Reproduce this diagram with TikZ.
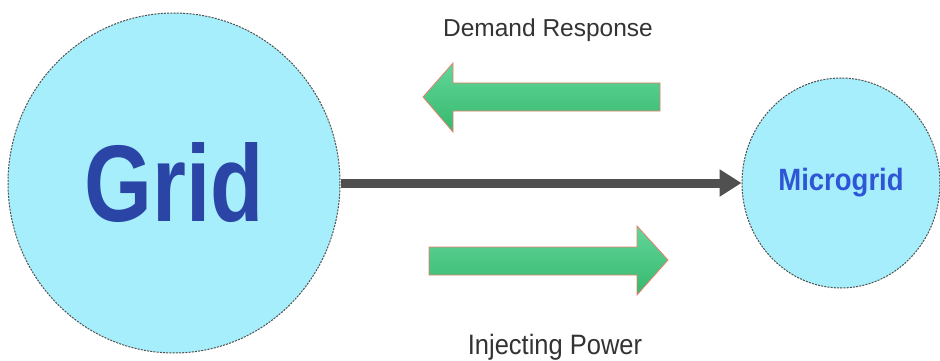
\documentclass[tikz,border=0pt]{standalone}
\usepackage{fontspec}
\setmainfont{Liberation Sans}
\usetikzlibrary{shapes.geometric, arrows.meta, positioning}
\definecolor{cyanfill}{HTML}{A6EEFB}
\definecolor{gridblue}{HTML}{2A45A5}
\definecolor{microblue}{HTML}{2E56D6}
\definecolor{darkline}{HTML}{505050}
\definecolor{greentop}{HTML}{62D69A}
\definecolor{greenbot}{HTML}{36B86D}
\definecolor{salmon}{HTML}{E8806E}
\tikzstyle{bubble} = [ellipse, inner sep=0pt, fill=cyanfill, draw=darkline, line width=1pt, dash pattern=on 2pt off 1.2pt]
\tikzstyle{label} = [text=black!80, inner sep=0pt, anchor=base]
\tikzstyle{connector} = [draw=darkline, line width=9pt, -{Triangle[length=22pt, width=26pt]}]
\tikzstyle{blockarrow} = [top color=greentop, bottom color=greenbot, draw=salmon, line width=0.8pt, line join=miter]

\begin{document}
\begin{tikzpicture}[x=1pt, y=-1pt]
    \useasboundingbox (0,0) rectangle (940,361);
    % Nodes
    \node [bubble, minimum width=332pt, minimum height=340pt] (grid) at (174,183)
        {\fontsize{109}{109}\selectfont\bfseries\color{gridblue}\scalebox{0.8}[1]{Grid}};
    \node [bubble, minimum width=198pt, minimum height=210pt] (micro) at (841,183)
        {\fontsize{27.5}{27.5}\selectfont\bfseries\color{microblue}\scalebox{1}[1.12]{Microgrid}};
    \node [label] (demand) at (548,37) {\fontsize{24.5}{24.5}\selectfont Demand Response};
    \node [label] (inject) at (555,354) {\fontsize{25.5}{25.5}\selectfont\scalebox{1}[1.1]{Injecting Power}};

    % Arrows
    \path [connector] (grid.east) -- (micro.west);
    \path [blockarrow] (660,83) -- (453,83) -- (453,63) -- (423,97) -- (453,132) -- (453,111) -- (660,111) -- cycle;
    \path [blockarrow] (429,247) -- (637,247) -- (637,226) -- (668,260) -- (637,295) -- (637,275) -- (429,275) -- cycle;
\end{tikzpicture}
\end{document}
